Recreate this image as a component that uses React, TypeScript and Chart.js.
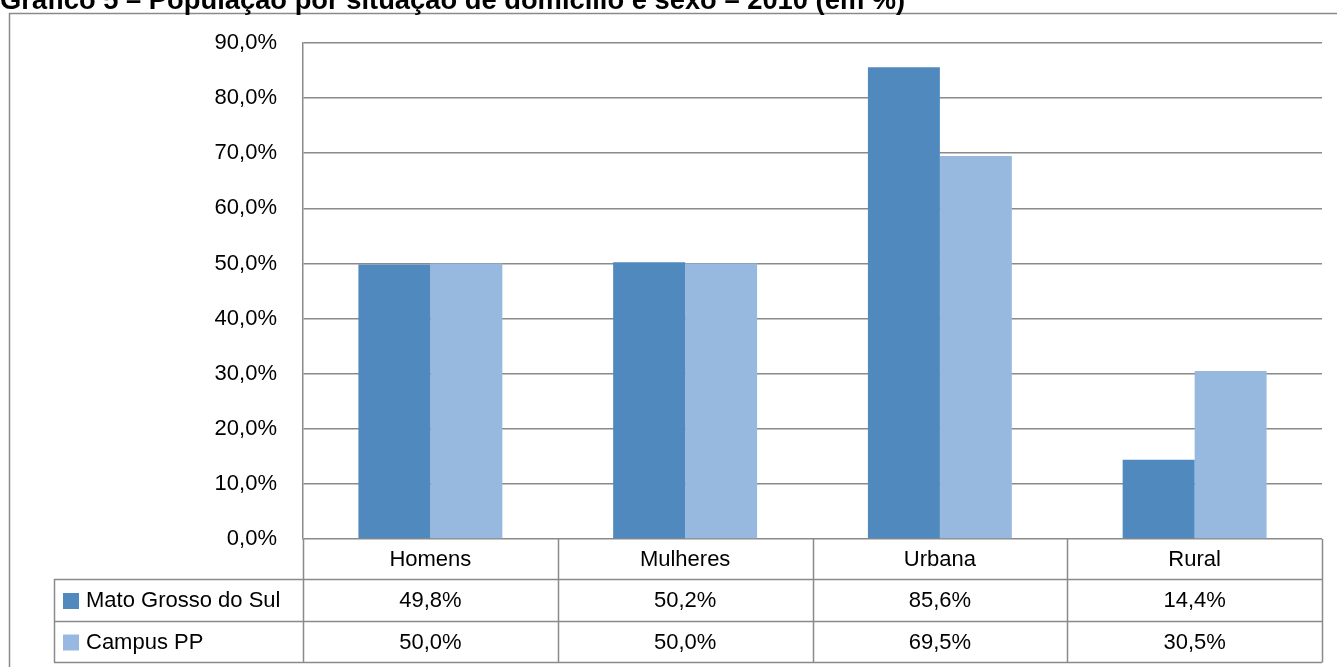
import React, { useEffect, useRef } from "react";
import { Chart, registerables } from "chart.js";

Chart.register(...registerables);

const titleText = "Gráfico 5 – População por situação de domicílio e sexo – 2010 (em %)";
const categories = ["Homens", "Mulheres", "Urbana", "Rural"];
const seriesNames = ["Mato Grosso do Sul", "Campus PP"];
const matoGrossoDoSul = [49.8, 50.2, 85.6, 14.4];
const campusPP = [50.0, 50.0, 69.5, 30.5];
const colors = ["#4F89BD", "#98B9DF"];
const yMax = 90;
const yStep = 10;

const FONT = "'Liberation Sans', Arial, sans-serif";
const fmt = (v: number) => v.toFixed(1).replace(".", ",") + "%";

const tablePlugin = {
  id: "tablePlugin",
  beforeDraw(chart: any) {
    const ctx = chart.ctx as CanvasRenderingContext2D;
    ctx.save();
    // outer frame
    ctx.strokeStyle = "#8a8a8a";
    ctx.lineWidth = 1.5;
    ctx.beginPath();
    ctx.moveTo(9.5, chart.height + 5);
    ctx.lineTo(9.5, 13.5);
    ctx.lineTo(chart.width + 5, 13.5);
    ctx.stroke();
    // title (partly cut off at top)
    let size = 20;
    ctx.font = `bold ${size}px ${FONT}`;
    const w = ctx.measureText("Gráfico 5 – População por situação de").width;
    size = (size * 497) / w;
    ctx.font = `bold ${size}px ${FONT}`;
    ctx.fillStyle = "#000";
    ctx.textBaseline = "alphabetic";
    ctx.textAlign = "left";
    ctx.fillText(titleText, 0, 8.5);
    ctx.restore();
  },
  afterDraw(chart: any) {
    const ctx = chart.ctx as CanvasRenderingContext2D;
    const area = chart.chartArea;
    const xs = chart.scales.x;
    const n = categories.length;
    const colW = (area.right - area.left) / n;
    const rowTops = [area.bottom, 579, 621, 662];
    const tableLeft = 54;
    ctx.save();
    ctx.strokeStyle = "#8a8a8a";
    ctx.lineWidth = 1.5;
    ctx.beginPath();
    // horizontal lines
    for (let r = 1; r < rowTops.length; r++) {
      ctx.moveTo(tableLeft, rowTops[r] + 0.5);
      ctx.lineTo(area.right, rowTops[r] + 0.5);
    }
    // vertical column lines
    for (let c = 0; c <= n; c++) {
      const x = Math.round(area.left + c * colW) + 0.5;
      ctx.moveTo(x, area.bottom);
      ctx.lineTo(x, rowTops[3] + 0.5);
    }
    ctx.moveTo(tableLeft + 0.5, rowTops[1]);
    ctx.lineTo(tableLeft + 0.5, rowTops[3] + 0.5);
    ctx.stroke();

    ctx.fillStyle = "#000";
    ctx.font = `22px ${FONT}`;
    ctx.textAlign = "center";
    ctx.textBaseline = "middle";
    const rowMid = (r: number) => (rowTops[r] + rowTops[r + 1]) / 2 + 1;
    categories.forEach((c, i) => {
      const cx = xs.getPixelForValue(i);
      ctx.fillText(c, cx, rowMid(0));
    });
    const series = [matoGrossoDoSul, campusPP];
    series.forEach((vals, s) => {
      vals.forEach((v, i) => {
        const cx = xs.getPixelForValue(i);
        ctx.fillText(fmt(v), cx, rowMid(s + 1));
      });
      // legend key
      const ym = rowMid(s + 1);
      ctx.fillStyle = colors[s];
      ctx.fillRect(63, ym - 8, 16, 16);
      ctx.fillStyle = "#000";
      ctx.textAlign = "left";
      ctx.fillText(seriesNames[s], 86, ym);
      ctx.textAlign = "center";
    });
    ctx.restore();
  },
};

export default function App() {
  const ref = useRef<HTMLCanvasElement>(null);
  useEffect(() => {
    if (!ref.current) return;
    const chart = new Chart(ref.current, {
      type: "bar",
      data: {
        labels: categories,
        datasets: [
          {
            label: seriesNames[0],
            data: matoGrossoDoSul,
            backgroundColor: colors[0],
            categoryPercentage: 0.565,
            barPercentage: 1,
          },
          {
            label: seriesNames[1],
            data: campusPP,
            backgroundColor: colors[1],
            categoryPercentage: 0.565,
            barPercentage: 1,
          },
        ],
      },
      options: {
        animation: false,
        responsive: false,
        devicePixelRatio: 1,
        layout: { padding: { left: 0, top: 43, right: 15, bottom: 128 } },
        plugins: {
          legend: { display: false },
          title: { display: false },
          tooltip: { enabled: false },
        },
        scales: {
          x: {
            display: false,
            offset: true,
            grid: { display: false },
          },
          y: {
            min: 0,
            max: yMax,
            afterFit: (scale: any) => {
              scale.width = 303;
            },
            ticks: {
              stepSize: yStep,
              padding: 26,
              color: "#000",
              font: { family: FONT, size: 22 },
              callback: (v: any) => fmt(Number(v)),
            },
            grid: { color: "#8a8a8a", lineWidth: 1.5, drawTicks: false },
            border: { display: true, color: "#8a8a8a", width: 1.5 },
          },
        },
      },
      plugins: [tablePlugin],
    });
    return () => chart.destroy();
  }, []);
  return (
    <canvas
      ref={ref}
      width={1337}
      height={667}
      style={{ position: "absolute", left: 0, top: 0, width: 1337, height: 667 }}
    />
  );
}
